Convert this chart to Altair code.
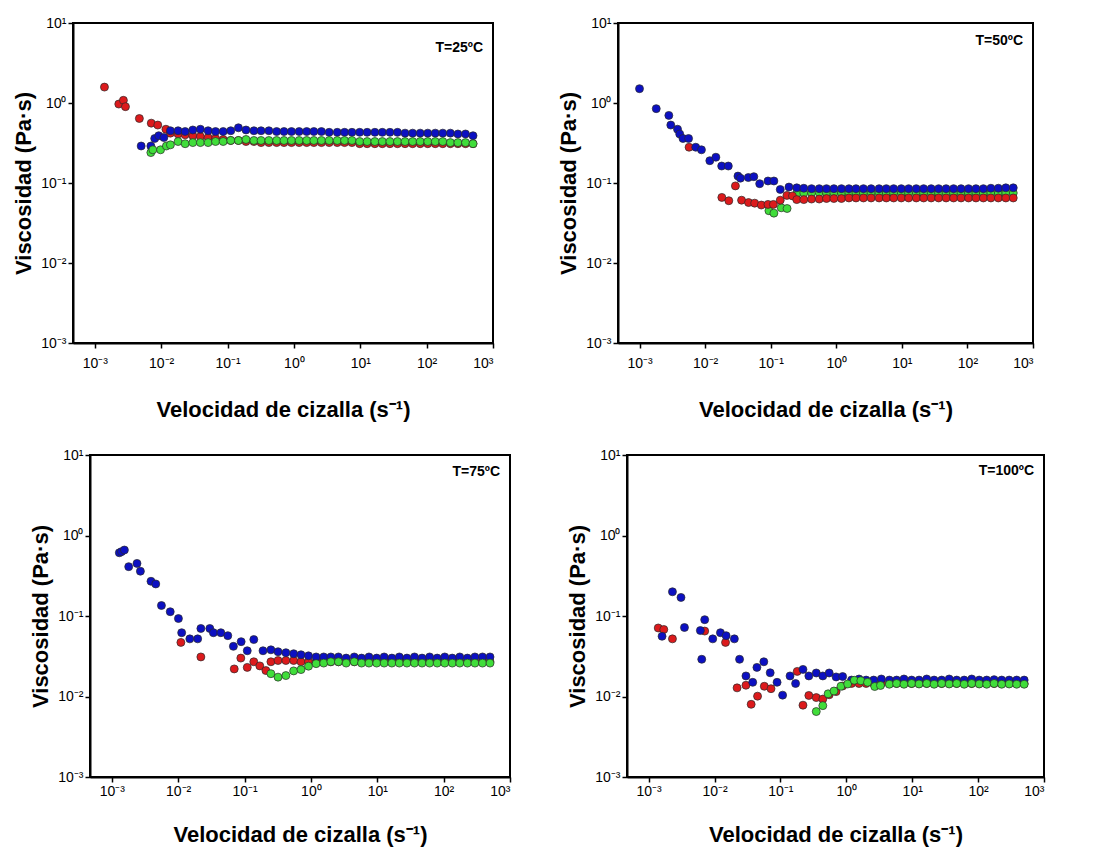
import altair as alt
import pandas as pd

FONT = "Liberation Sans"
RED = "#dc1a1c"
BLUE = "#0c10c2"
GREEN = "#40dd3a"

# shear-rate grid used by the rheometer on the plateau part (s^-1)
GRID = [0.0048, 0.0063, 0.0082, 0.0106, 0.0138, 0.018, 0.023, 0.030, 0.039, 0.051,
        0.066, 0.086, 0.112, 0.146, 0.19, 0.25, 0.32, 0.42, 0.55, 0.71,
        0.92, 1.20, 1.56, 2.0, 2.6, 3.4, 4.5, 5.8, 7.5, 9.8,
        12.7, 16.6, 21.5, 28.0, 36.4, 47.3, 61.5, 80, 104, 135,
        175, 228, 296, 385, 500]

# ---------- T = 25 C ----------
P1_RED_X = [0.0014, 0.0023, 0.0027, 0.0029, 0.0047, 0.0071, 0.0089, 0.0118]
P1_RED_Y = [1.58, 0.97, 1.08, 0.90, 0.64, 0.56, 0.53, 0.47]
P1_RED_G = [0.42, 0.41, 0.40, 0.39, 0.38, 0.37, 0.36, 0.35, 0.34, 0.34,
            0.33, 0.33, 0.32, 0.32, 0.32, 0.32, 0.32, 0.32, 0.32, 0.32,
            0.32, 0.32, 0.32, 0.32, 0.32, 0.31, 0.31, 0.31, 0.31, 0.31,
            0.31, 0.31, 0.31, 0.31, 0.31, 0.31, 0.31, 0.31, 0.31, 0.31,
            0.31]
P1_BLUE_X = [0.0050, 0.0070, 0.0080, 0.0092, 0.0110]
P1_BLUE_Y = [0.29, 0.29, 0.36, 0.39, 0.37]
P1_BLUE_G = [0.45, 0.45, 0.44, 0.46, 0.47, 0.45, 0.44, 0.44, 0.45, 0.49,
             0.46, 0.45, 0.45, 0.45, 0.44, 0.44, 0.44, 0.44, 0.44, 0.44,
             0.44, 0.43, 0.43, 0.43, 0.43, 0.43, 0.43, 0.43, 0.43, 0.43,
             0.43, 0.42, 0.42, 0.42, 0.42, 0.42, 0.42, 0.42, 0.41, 0.41,
             0.39]
P1_GREEN_X = [0.0070, 0.0075, 0.0098, 0.0120]
P1_GREEN_Y = [0.24, 0.26, 0.26, 0.29]
P1_GREEN_G = [0.30, 0.33, 0.31, 0.32, 0.32, 0.32, 0.33, 0.33, 0.34, 0.34,
              0.35, 0.34, 0.34, 0.34, 0.34, 0.34, 0.34, 0.34, 0.34, 0.34,
              0.34, 0.34, 0.34, 0.34, 0.34, 0.33, 0.33, 0.33, 0.33, 0.33,
              0.33, 0.33, 0.33, 0.33, 0.33, 0.33, 0.33, 0.32, 0.32, 0.32,
              0.31]

# ---------- T = 50 C ----------
P2_BLUE_X = [0.0010, 0.0018, 0.0028, 0.0030, 0.0038, 0.0041, 0.0046, 0.0056, 0.0072, 0.0088,
             0.0118, 0.0146, 0.0179, 0.0226, 0.0317, 0.0346, 0.0456, 0.0553, 0.068, 0.091,
             0.112, 0.14]
P2_BLUE_Y = [1.51, 0.85, 0.70, 0.53, 0.47, 0.41, 0.36, 0.36, 0.28, 0.26,
             0.19, 0.21, 0.163, 0.163, 0.122, 0.115, 0.117, 0.12, 0.098, 0.106,
             0.106, 0.083]
P2_BLUE_G = [0.089, 0.087, 0.086, 0.085, 0.085, 0.085, 0.085, 0.085, 0.085, 0.085,
             0.085, 0.085, 0.085, 0.085, 0.085, 0.085, 0.085, 0.085, 0.085, 0.085,
             0.085, 0.085, 0.085, 0.085, 0.085, 0.085, 0.085, 0.086, 0.086, 0.087,
             0.087]
P2_RED_X = [0.0057, 0.018, 0.023, 0.029, 0.036, 0.046, 0.057, 0.072, 0.091, 0.11,
            0.14, 0.177, 0.215]
P2_RED_Y = [0.28, 0.066, 0.060, 0.092, 0.061, 0.057, 0.056, 0.053, 0.054, 0.054,
            0.061, 0.070, 0.069]
P2_RED_G = [0.062, 0.062, 0.063, 0.063, 0.064, 0.064, 0.064, 0.065, 0.065, 0.065,
            0.065, 0.065, 0.065, 0.065, 0.065, 0.065, 0.065, 0.065, 0.065, 0.065,
            0.065, 0.065, 0.065, 0.065, 0.065, 0.065, 0.065, 0.065, 0.065, 0.065]
P2_GREEN_X = [0.094, 0.112, 0.145, 0.178]
P2_GREEN_Y = [0.045, 0.042, 0.049, 0.048]
P2_GREEN_G = [0.074, 0.075, 0.075, 0.076, 0.075, 0.075, 0.075, 0.075, 0.075, 0.075,
              0.075, 0.075, 0.075, 0.075, 0.075, 0.075, 0.075, 0.075, 0.075, 0.075,
              0.075, 0.075, 0.075, 0.075, 0.075, 0.075, 0.075, 0.075, 0.075, 0.075]

# ---------- T = 75 C ----------
P3_BLUE_X = [0.0013, 0.0014, 0.00155, 0.0018, 0.0024, 0.0027, 0.0039, 0.0046, 0.0056, 0.0076,
             0.0101, 0.0113, 0.015, 0.0197, 0.022, 0.030, 0.034, 0.044, 0.056, 0.068,
             0.089, 0.11, 0.138]
P3_BLUE_Y = [0.61, 0.63, 0.66, 0.41, 0.45, 0.36, 0.27, 0.25, 0.135, 0.113,
             0.093, 0.062, 0.052, 0.052, 0.07, 0.07, 0.062, 0.062, 0.057, 0.042,
             0.048, 0.037, 0.051]
P3_BLUE_G = [0.037, 0.038, 0.036, 0.035, 0.034, 0.033, 0.032, 0.031, 0.031, 0.031,
             0.031, 0.030, 0.031, 0.030, 0.031, 0.030, 0.031, 0.030, 0.031, 0.030,
             0.031, 0.030, 0.031, 0.030, 0.031, 0.030, 0.031, 0.030, 0.031, 0.031,
             0.031]
P3_RED_X = [0.011, 0.022, 0.070, 0.088, 0.11, 0.138, 0.17, 0.21]
P3_RED_Y = [0.047, 0.031, 0.022, 0.030, 0.023, 0.027, 0.024, 0.021]
P3_RED_G = [0.027, 0.028, 0.028, 0.028, 0.027, 0.027, 0.027, 0.027, 0.027, 0.027,
            0.027, 0.027, 0.027, 0.027, 0.027, 0.027, 0.027, 0.027, 0.027, 0.027,
            0.027, 0.027, 0.027, 0.027, 0.027, 0.027, 0.027, 0.027, 0.027, 0.027]
P3_GREEN_G = [0.0192, 0.0174, 0.0182, 0.0208, 0.0216, 0.0238, 0.0256, 0.026, 0.027, 0.027,
              0.026, 0.027, 0.026, 0.026, 0.026, 0.026, 0.026, 0.026, 0.026, 0.026,
              0.026, 0.026, 0.026, 0.026, 0.026, 0.026, 0.026, 0.026, 0.026, 0.026]

# ---------- T = 100 C ----------
P4_BLUE_X = [0.0016, 0.0023, 0.0031, 0.0035, 0.0061, 0.0064, 0.0071, 0.0094, 0.0123, 0.015,
             0.020, 0.024, 0.030, 0.038, 0.044, 0.056, 0.070, 0.089, 0.108, 0.14,
             0.17, 0.22, 0.27, 0.35, 0.44, 0.55, 0.70, 0.88]
P4_BLUE_Y = [0.056, 0.20, 0.17, 0.072, 0.066, 0.029, 0.09, 0.052, 0.062, 0.057,
             0.052, 0.029, 0.018, 0.015, 0.023, 0.027, 0.0197, 0.015, 0.0104, 0.018,
             0.0145, 0.0217, 0.018, 0.0196, 0.018, 0.0196, 0.0175, 0.0177]
P4_BLUE_G = [0.016, 0.0165, 0.016, 0.016, 0.0165, 0.016, 0.016, 0.0165, 0.016, 0.016,
             0.0165, 0.016, 0.016, 0.0165, 0.016, 0.016, 0.0165, 0.016, 0.016, 0.0162,
             0.016, 0.016, 0.016, 0.016]
P4_RED_X = [0.0014, 0.0017, 0.0023, 0.0071, 0.0147, 0.022, 0.030, 0.036, 0.045, 0.057,
            0.072, 0.18, 0.22, 0.27, 0.35, 0.44, 0.55, 0.70, 0.88]
P4_RED_Y = [0.071, 0.068, 0.052, 0.065, 0.047, 0.0128, 0.0138, 0.0080, 0.0101, 0.0134,
            0.0125, 0.0205, 0.0078, 0.0103, 0.0097, 0.0093, 0.0105, 0.0115, 0.0135]
P4_RED_G = [0.0145, 0.0145, 0.0145, 0.0145, 0.0145, 0.0145, 0.0145, 0.0145, 0.0145, 0.0145,
            0.0145, 0.0145, 0.0145, 0.0145, 0.0145, 0.0145, 0.0145, 0.0145, 0.0145, 0.0145,
            0.0145, 0.0145, 0.0145, 0.0145]
P4_GREEN_X = [0.35, 0.44, 0.53, 0.65, 0.83, 1.05, 1.32, 1.66, 2.1, 2.7, 3.3]
P4_GREEN_Y = [0.0065, 0.0077, 0.0108, 0.0117, 0.0134, 0.0143, 0.0159, 0.0157, 0.0150, 0.0133, 0.0137]
P4_GREEN_G = [0.0142, 0.0145, 0.0142, 0.0145, 0.0143, 0.0145, 0.0142, 0.0145, 0.0143, 0.0145,
              0.0142, 0.0145, 0.0143, 0.0142, 0.0145, 0.0142, 0.0143, 0.0142, 0.0142]

LABELS = ["T=25ºC", "T=50ºC", "T=75ºC", "T=100ºC"]
X_TICKS = [0.001, 0.01, 0.1, 1, 10, 100, 1000]
Y_TICKS = [0.001, 0.01, 0.1, 1, 10]


def series(xs, ys, grid_y):
    gx = GRID[len(GRID) - len(grid_y):]
    assert len(xs) == len(ys)
    return pd.DataFrame({"x": list(xs) + list(gx), "y": list(ys) + list(grid_y)})


LABEL_EXPR = ("'10' + replace(replace(replace(replace(replace(toString(round(log(datum.value)/LN10)),"
              "'-','⁻'),'0','⁰'),'1','¹'),'2','²'),'3','³')")


def panel(layers, label, width, height, label_dy, x_label_pad, x_title_pad):
    xenc = alt.X("x:Q", scale=alt.Scale(type="log", domain=[0.00047, 1000], nice=False),
                 axis=alt.Axis(values=X_TICKS, labelExpr=LABEL_EXPR, labelFontSize=14,
                               title="Velocidad de cizalla (s⁻¹)",
                               labelPadding=x_label_pad, titlePadding=x_title_pad))
    yenc = alt.Y("y:Q", scale=alt.Scale(type="log", domain=[0.001, 10], nice=False),
                 axis=alt.Axis(values=Y_TICKS, labelExpr=LABEL_EXPR, labelFontSize=14,
                               title="Viscosidad (Pa·s)", labelPadding=2, titlePadding=5))
    charts = []
    for df, color in layers:
        charts.append(alt.Chart(df).mark_circle(size=64, opacity=1, fill=color,
                                                 stroke="#2a2a2a", strokeWidth=0.7)
                      .encode(x=xenc, y=yenc))
    txt = alt.Chart(pd.DataFrame({"t": [label]})).mark_text(
        align="right", baseline="middle", font=FONT, fontSize=14, fontWeight="bold",
        color="black").encode(x=alt.value(width - 10), y=alt.value(label_dy), text="t:N")
    charts.append(txt)
    return alt.layer(*charts).properties(width=width, height=height)


def spacer(w):
    return alt.Chart(pd.DataFrame({"a": [0]})).mark_point(opacity=0).encode(
        x=alt.value(0), y=alt.value(0)).properties(
        width=w, height=10, view=alt.ViewBackground(stroke=None))


p1 = panel([(series(P1_RED_X, P1_RED_Y, P1_RED_G), RED),
            (series(P1_BLUE_X, P1_BLUE_Y, P1_BLUE_G), BLUE),
            (series(P1_GREEN_X, P1_GREEN_Y, P1_GREEN_G), GREEN)],
           LABELS[0], 420, 320, 25, 8, 29)
p2 = panel([(series(P2_GREEN_X, P2_GREEN_Y, P2_GREEN_G), GREEN),
            (series(P2_RED_X, P2_RED_Y, P2_RED_G), RED),
            (series(P2_BLUE_X, P2_BLUE_Y, P2_BLUE_G), BLUE)],
           LABELS[1], 415, 320, 18, 8, 29)
p3 = panel([(series(P3_RED_X, P3_RED_Y, P3_RED_G), RED),
            (series(P3_BLUE_X, P3_BLUE_Y, P3_BLUE_G), BLUE),
            (series([], [], P3_GREEN_G), GREEN)],
           LABELS[2], 420, 322, 17, 2, 26)
p4 = panel([(series(P4_RED_X, P4_RED_Y, P4_RED_G), RED),
            (series(P4_BLUE_X, P4_BLUE_Y, P4_BLUE_G), BLUE),
            (series(P4_GREEN_X, P4_GREEN_Y, P4_GREEN_G), GREEN)],
           LABELS[3], 417, 322, 16, 2, 26)

row1 = alt.hconcat(alt.hconcat(spacer(1), p1, spacing=0), p2, spacing=61)
row2 = alt.hconcat(alt.hconcat(spacer(20), p3, spacing=0), p4, spacing=53)
chart = alt.vconcat(row1, row2, spacing=26).properties(
    padding={"left": 5, "top": 15, "right": 5, "bottom": 5}
).configure_view(stroke="black", strokeWidth=2).configure_axis(
    grid=False, domainColor="black", domainWidth=2, tickColor="black", tickWidth=1.5,
    tickSize=5, labelFont=FONT, labelFontSize=14, labelColor="black",
    titleFont=FONT, titleFontSize=22, titleFontWeight="bold", titleColor="black"
)

chart.save("out.html", embed_options={"renderer": "svg", "actions": False})
